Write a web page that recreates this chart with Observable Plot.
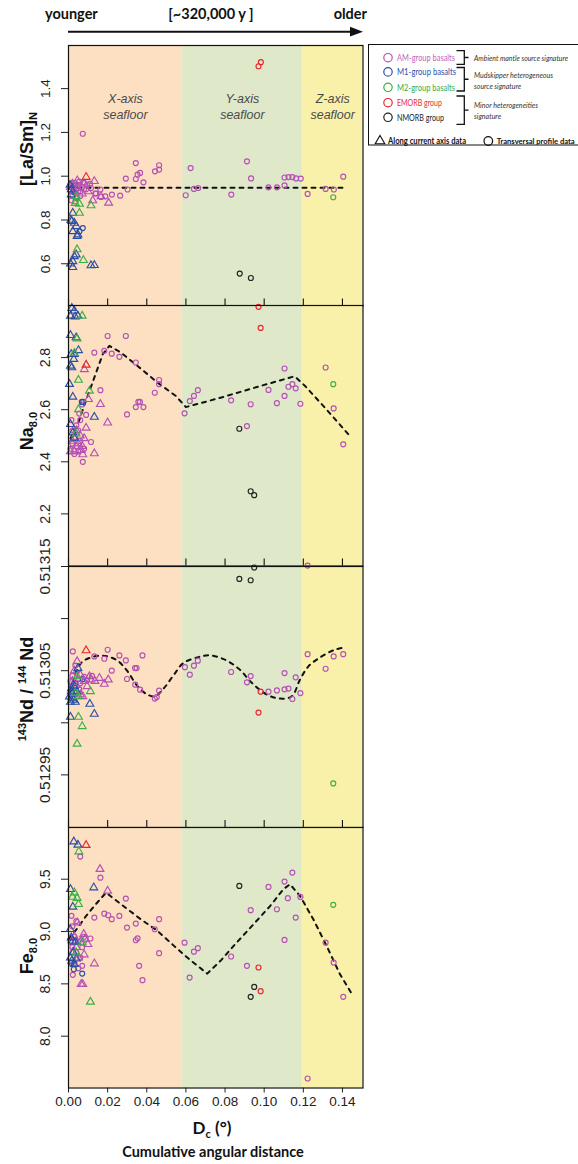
<!DOCTYPE html>
<html><head><meta charset="utf-8">
<script src="https://cdn.jsdelivr.net/npm/d3@7"></script>
<script src="https://cdn.jsdelivr.net/npm/@observablehq/plot@0.6"></script>
<style>
body{margin:0;background:#fff;}
#wrap{position:relative;width:578px;height:1164px;overflow:hidden;background:#fff;}
#wrap > svg{position:absolute;left:0;}
</style></head><body><div id="wrap"></div>
<script>
// ---------- shared x ----------
const xTicks = [0, 0.02, 0.04, 0.06, 0.08, 0.10, 0.12, 0.14];
const bandStart = [0, 0.0582, 0.1195];
const bandEnd = [0.0582, 0.1195, 0.1505];
const bandFill = ["#fde0c2", "#dfe8c9", "#f9f1aa"];
const bandName = ["X-axis\nseafloor", "Y-axis\nseafloor", "Z-axis\nseafloor"];

// ---------- groups / legend ----------
const groupKeys = ["AM", "M1", "M2", "EMORB", "NMORB"];
const groupColors = ["#b551b3", "#2b4fa5", "#3cae48", "#e8262d", "#222222"];
const legendLabels = ["AM-group basalts", "M1-group basalts", "M2-group basalts", "EMORB group", "NMORB group"];
const legendTextColors = ["#c163b6", "#2f4fa8", "#3aa845", "#ea2a36", "#222222"];
const legendNotes = [["Ambient mantle source signature"], ["Mudskipper heterogeneous", "source signature"], ["Minor heterogeneities", "signature"]];
const shapeLabels = ["Along current axis data", "Transversal profile data"];

// ---------- Panel 1 : [La/Sm]N ----------
const lasmTicks = [0.6, 0.8, 1.0, 1.2, 1.4];
const lasmAM_circ = [[0.0073,1.194],[0.0344,1.060],[0.0353,1.007],[0.0366,1.015],[0.0344,0.987],[0.0293,0.989],[0.0383,0.972],[0.0442,1.022],[0.0463,1.030],[0.0463,1.050],[0.0302,0.939],[0.0264,0.911],[0.0222,0.916],[0.0188,0.908],[0.0166,0.905],[0.0141,0.921],[0.0115,0.946],[0.0163,0.939],[0.0137,0.921],[0.0599,0.913],[0.0624,1.037],[0.0641,0.942],[0.0663,0.946],[0.0832,0.916],[0.0912,1.068],[0.0933,0.990],[0.1022,0.949],[0.1065,0.949],[0.1104,0.958],[0.1104,0.994],[0.1124,0.996],[0.1144,0.996],[0.1163,0.990],[0.1187,0.989],[0.1222,0.919],[0.1314,0.942],[0.1356,0.939],[0.1404,0.998],
  [0.001,0.96],[0.002,0.95],[0.003,0.97],[0.004,0.94],[0.005,0.96],[0.006,0.93],[0.007,0.95],[0.008,0.97],[0.009,0.94],[0.002,0.91],[0.004,0.90],[0.006,0.91],[0.003,0.925],[0.0095,0.96],[0.011,0.965],[0.0055,0.975],[0.0015,0.89],[0.0035,0.885]];
const lasmAM_tri = [[0.0132,0.977],[0.0166,0.908],[0.0205,0.878],[0.0124,0.889],[0.001,0.95],[0.003,0.935],[0.005,0.945],[0.007,0.92],[0.008,0.965],[0.0045,0.98],[0.010,0.93],[0.002,0.965]];
const lasmM1_tri = [[0.0022,0.832],[0.0014,0.939],[0.0014,0.916],[0.0017,0.794],[0.003,0.786],[0.004,0.771],[0.0022,0.748],[0.0044,0.726],[0.0022,0.611],[0.003,0.634],[0.0039,0.642],[0.0022,0.584],[0.0115,0.592],[0.0132,0.593],[0.0008,0.96],[0.0048,0.733],[0.0012,0.80],[0.0010,0.60]];
const lasmM1_circ = [[0.0073,0.763],[0.0056,0.748],[0.0035,0.96],[0.0025,0.93]];
const lasmM2_tri = [[0.0044,0.665],[0.0076,0.616],[0.0056,0.832],[0.0034,0.877],[0.0056,0.873],[0.0115,0.866],[0.0039,0.908]];
const lasmM2_circ = [[0.1353,0.904]];
const lasmEM_tri = [[0.009,0.996]];
const lasmEM_circ = [[0.0983,1.521],[0.0971,1.502]];
const lasmNM_circ = [[0.0875,0.555],[0.0932,0.535]];
const lasmTrend = [[0,0.947],[0.14,0.947]];

// ---------- Panel 2 : Na8.0 ----------
const naTicks = [2.2, 2.4, 2.6, 2.8];
const naAM_circ = [[0.02,2.883],[0.0293,2.883],[0.0183,2.826],[0.0221,2.815],[0.026,2.803],[0.0344,2.781],[0.0132,2.819],[0.0163,2.675],[0.0463,2.714],[0.0463,2.698],[0.0441,2.665],[0.0357,2.63],[0.0365,2.63],[0.0344,2.61],[0.0383,2.61],[0.0299,2.582],[0.0115,2.476],[0.0073,2.40],[0.0593,2.586],[0.062,2.633],[0.0641,2.653],[0.0661,2.675],[0.0831,2.636],[0.0912,2.537],[0.0931,2.621],[0.1022,2.676],[0.1065,2.625],[0.1104,2.758],[0.1104,2.653],[0.1124,2.688],[0.1144,2.698],[0.1161,2.682],[0.1185,2.623],[0.1314,2.762],[0.1355,2.605],[0.1404,2.467],
  [0.001,2.45],[0.002,2.47],[0.003,2.49],[0.004,2.46],[0.005,2.44],[0.006,2.48],[0.002,2.52],[0.004,2.54],[0.006,2.56],[0.003,2.43],[0.008,2.45],[0.0015,2.56],[0.005,2.52],[0.007,2.62],[0.009,2.58],[0.0055,2.585]];
const naAM_tri = [[0.0081,2.755],[0.0102,2.64],[0.0163,2.621],[0.02,2.55],[0.0132,2.432],[0.0073,2.428],[0.007,2.46],[0.003,2.44],[0.005,2.47],[0.006,2.50],[0.004,2.52],[0.008,2.49],[0.002,2.48],[0.009,2.53],[0.001,2.44],[0.0065,2.445]];
const naM1_tri = [[0.0017,2.99],[0.003,2.98],[0.001,2.96],[0.0034,2.957],[0.0048,2.96],[0.001,2.886],[0.0039,2.877],[0.0051,2.828],[0.003,2.813],[0.0014,2.813],[0.0027,2.794],[0.001,2.768],[0.0017,2.762],[0.0005,2.698],[0.0022,2.649],[0.0132,2.572],[0.001,2.544],[0.0022,2.512],[0.003,2.492]];
const naM1_circ = [[0.0068,2.63],[0.0075,2.63]];
const naM2_tri = [[0.007,2.96],[0.0044,2.873],[0.003,2.817],[0.0051,2.714],[0.0107,2.672],[0.0051,2.601],[0.0039,2.508]];
const naM2_circ = [[0.1353,2.698]];
const naEM_tri = [[0.009,2.772]];
const naEM_circ = [[0.0971,2.995],[0.0982,2.914]];
const naNM_circ = [[0.0873,2.527],[0.0931,2.287],[0.0949,2.272]];
const naTrend = [[0.001,2.49],[0.0048,2.544],[0.0073,2.60],[0.0107,2.672],[0.0141,2.742],[0.0175,2.813],[0.0209,2.845],[0.0268,2.819],[0.0353,2.768],[0.0455,2.704],[0.0548,2.653],[0.0600,2.610],[0.0777,2.646],[0.0963,2.687],[0.1144,2.726],[0.1158,2.727],[0.1209,2.691],[0.131,2.608],[0.1438,2.499]];

// ---------- Panel 3 : 143Nd/144Nd ----------
const ndTicks = [0.51295, 0.5130, 0.51305, 0.5131, 0.51315];
const ndTickLabels = ["0.51295", "", "0.51305", "", "0.51315"];
const ndAM_circ = [[0.0022,0.5130685],[0.0132,0.5130637],[0.0183,0.5130615],[0.02,0.5130701],[0.026,0.5130647],[0.0293,0.5130599],[0.0221,0.51305],[0.034,0.5130525],[0.0348,0.5130525],[0.0378,0.5130647],[0.0299,0.513042],[0.0341,0.5130366],[0.0366,0.5130318],[0.0441,0.5130232],[0.0451,0.5130247],[0.0463,0.5130308],[0.0595,0.5130534],[0.062,0.5130462],[0.0641,0.5130548],[0.0661,0.5130596],[0.0831,0.5130487],[0.0912,0.5130388],[0.0931,0.5130448],[0.1022,0.5130299],[0.1065,0.5130311],[0.1104,0.5130321],[0.1124,0.5130328],[0.1104,0.5130477],[0.1144,0.5130228],[0.1161,0.5130436],[0.1185,0.5130285],[0.1222,0.5130659],[0.1314,0.5130519],[0.1355,0.5130637],[0.1404,0.5130659],[0.1222,0.5131509],
  [0.001,0.51304],[0.002,0.513045],[0.003,0.51303],[0.004,0.513048],[0.005,0.513042],[0.006,0.513038],[0.008,0.513044],[0.0095,0.513041],[0.012,0.513045],[0.0015,0.513035],[0.0035,0.513055],[0.0055,0.513032]];
const ndAM_tri = [[0.0044,0.5130589],[0.0183,0.5130372],[0.0203,0.5130414],[0.0158,0.5130429],[0.0107,0.5130445],[0.0073,0.5130254],[0.0061,0.513027],[0.0115,0.5130414],[0.002,0.51304],[0.004,0.513036],[0.006,0.513046],[0.008,0.51304],[0.0095,0.513035],[0.003,0.51305],[0.0135,0.51304]];
const ndM1_tri = [[0.0048,0.5130525],[0.001,0.5130056],[0.0109,0.513018],[0.0132,0.5130084],[0.0014,0.5130302],[0.0022,0.5130238],[0.003,0.513035],[0.001,0.51302],[0.002,0.513028],[0.0005,0.513025],[0.0035,0.51302],[0.0015,0.513033],[0.0025,0.513022],[0.0042,0.51303]];
const ndM1_circ = [[0.0073,0.513042],[0.0035,0.513038]];
const ndM2_tri = [[0.0044,0.5130445],[0.0112,0.5130302],[0.0051,0.5130056],[0.007,0.5129966],[0.0044,0.5129797],[0.0034,0.5130285],[0.0051,0.5130254]];
const ndM2_circ = [[0.1353,0.5129418]];
const ndEM_tri = [[0.009,0.5130694]];
const ndEM_circ = [[0.0982,0.5130299],[0.0971,0.5130098]];
const ndNM_circ = [[0.0873,0.5131381],[0.0931,0.5131368],[0.0949,0.513149]];
const ndTrend = [[0,0.513022],[0.0005,0.513027],[0.0022,0.51304],[0.0048,0.5130525],[0.0073,0.513059],[0.0115,0.5130627],[0.0158,0.5130644],[0.02,0.5130637],[0.0251,0.5130596],[0.0302,0.5130493],[0.0353,0.513035],[0.0404,0.513027],[0.0441,0.5130254],[0.0488,0.5130333],[0.0539,0.5130462],[0.0587,0.5130573],[0.0658,0.5130627],[0.0717,0.5130647],[0.0793,0.5130611],[0.087,0.5130519],[0.0938,0.5130381],[0.1014,0.513027],[0.1082,0.5130232],[0.1141,0.5130254],[0.1183,0.5130414],[0.1226,0.5130541],[0.1285,0.5130627],[0.1361,0.5130701],[0.1412,0.5130723]];

// ---------- Panel 4 : Fe8.0 ----------
const feTicks = [8.0, 8.5, 9.0, 9.5];
const feAM_circ = [[0.006,9.716],[0.0163,9.515],[0.0132,9.133],[0.0183,9.171],[0.0203,9.156],[0.0221,9.118],[0.026,9.149],[0.0293,9.315],[0.0299,9.038],[0.0344,9.076],[0.0344,8.917],[0.0353,8.935],[0.0441,9.022],[0.0463,9.118],[0.0463,8.793],[0.0361,8.672],[0.0378,8.535],[0.0112,8.933],[0.007,8.672],[0.0022,8.586],[0.0593,8.894],[0.0619,8.56],[0.0641,8.808],[0.0661,8.841],[0.0831,8.761],[0.0912,8.672],[0.0931,9.204],[0.1022,9.426],[0.1065,9.213],[0.1104,9.477],[0.1104,8.92],[0.1121,9.319],[0.1144,9.563],[0.1161,9.133],[0.1185,9.331],[0.1222,7.596],[0.1314,8.894],[0.1355,8.703],[0.1404,8.376],
  [0.001,8.9],[0.002,8.85],[0.003,8.95],[0.004,8.8],[0.005,8.9],[0.006,8.75],[0.002,9.05],[0.004,9.1],[0.003,8.7],[0.007,8.85],[0.008,8.95],[0.0015,9.15],[0.005,8.65]];
const feAM_tri = [[0.0161,9.596],[0.02,9.388],[0.0132,8.694],[0.0065,8.497],[0.0073,8.497],[0.0099,8.879],[0.0078,8.975],[0.0044,9.085],[0.002,8.8],[0.004,8.85],[0.006,8.9],[0.008,8.78],[0.003,8.95],[0.005,8.75],[0.0085,8.93]];
const feM1_tri = [[0.0027,9.859],[0.0048,9.828],[0.001,9.404],[0.0129,9.42],[0.0022,9.235],[0.0009,9.022],[0.0014,8.942],[0.0022,8.911],[0.0017,8.72],[0.003,8.688],[0.001,8.75],[0.0025,8.8],[0.004,8.74],[0.0035,8.9]];
const feM1_circ = [[0.007,8.598],[0.0027,8.64],[0.0015,8.7]];
const feM2_tri = [[0.0053,9.764],[0.003,9.372],[0.0044,9.319],[0.0051,9.261],[0.0039,8.799],[0.007,8.894],[0.0112,8.328],[0.002,9.33]];
const feM2_circ = [[0.1353,9.255]];
const feEM_tri = [[0.009,9.825]];
const feEM_circ = [[0.0971,8.656],[0.0982,8.43]];
const feNM_circ = [[0.0873,9.436],[0.0949,8.471],[0.0931,8.376]];
const feTrend = [[0,8.927],[0.0048,9.038],[0.009,9.149],[0.0132,9.245],[0.0192,9.372],[0.0268,9.261],[0.0369,9.118],[0.0455,9.006],[0.0539,8.863],[0.0607,8.751],[0.0709,8.598],[0.0777,8.72],[0.0844,8.863],[0.0938,9.054],[0.1031,9.245],[0.1098,9.404],[0.1132,9.452],[0.1183,9.34],[0.1251,9.118],[0.1319,8.863],[0.1387,8.593],[0.1454,8.385]];

// ---------- build ----------
function rows(sets) {
  const out = [];
  sets.forEach(([g, shape, arr]) => arr.forEach(([x, y]) => out.push({x, y, g, shape})));
  return out;
}
const colorOf = g => groupColors[groupKeys.indexOf(g)];

const panels = [
  {top: 44.5, bottom: 305, domain: [0.407, 1.597], ticks: lasmTicks, labels: lasmTicks.map(d => d.toFixed(1)), fs: 13.5, trend: lasmTrend, curve: "linear",
   data: rows([["AM","tri",lasmAM_tri],["AM","circ",lasmAM_circ],["M1","circ",lasmM1_circ],["M1","tri",lasmM1_tri],["M2","tri",lasmM2_tri],["M2","circ",lasmM2_circ],["EMORB","tri",lasmEM_tri],["EMORB","circ",lasmEM_circ],["NMORB","circ",lasmNM_circ]])},
  {top: 305, bottom: 565.5, domain: [2.0, 3.0], ticks: naTicks, labels: naTicks.map(d => d.toFixed(1)), fs: 14, trend: naTrend, curve: "linear",
   data: rows([["AM","tri",naAM_tri],["AM","circ",naAM_circ],["M1","circ",naM1_circ],["M1","tri",naM1_tri],["M2","tri",naM2_tri],["M2","circ",naM2_circ],["EMORB","tri",naEM_tri],["EMORB","circ",naEM_circ],["NMORB","circ",naNM_circ]])},
  {top: 565.5, bottom: 826.5, domain: [0.5128995, 0.51315], ticks: ndTicks, labels: ndTickLabels, fs: 15.5, trend: ndTrend, curve: "catmull-rom",
   data: rows([["AM","tri",ndAM_tri],["AM","circ",ndAM_circ],["M1","circ",ndM1_circ],["M1","tri",ndM1_tri],["M2","tri",ndM2_tri],["M2","circ",ndM2_circ],["EMORB","tri",ndEM_tri],["EMORB","circ",ndEM_circ],["NMORB","circ",ndNM_circ]])},
  {top: 826.5, bottom: 1087, domain: [7.505, 9.994], ticks: feTicks, labels: feTicks.map(d => d.toFixed(1)), fs: 14, trend: feTrend, curve: "linear",
   data: rows([["AM","tri",feAM_tri],["AM","circ",feAM_circ],["M1","circ",feM1_circ],["M1","tri",feM1_tri],["M2","tri",feM2_tri],["M2","circ",feM2_circ],["EMORB","tri",feEM_tri],["EMORB","circ",feEM_circ],["NMORB","circ",feNM_circ]])}
];

const wrap = document.getElementById("wrap");
const bands = bandStart.map((s, i) => ({s, e: bandEnd[i], fill: bandFill[i], name: bandName[i]}));
const xLeft = 68, xRight = 362.5;

panels.forEach((p, i) => {
  const last = i === panels.length - 1;
  const mt = 2, mb = last ? 40 : 2;
  const h = p.bottom - p.top;
  const labelRows = p.ticks.map((t, k) => ({v: t, t: p.labels[k]})).filter(d => d.t);
  const marks = [
    Plot.rect(bands, {x1: "s", x2: "e", fill: "fill"}),
    i === 0 ? Plot.text(bands, {x: d => (d.s + d.e) / 2, text: "name", frameAnchor: "top", dy: 60, lineAnchor: "middle",
      fontStyle: "italic", fontSize: 12.5, fill: "#4a4a4a", lineHeight: 1.28}) : null,
    Plot.line(p.trend, {x: d => d[0], y: d => d[1], stroke: "#111", strokeWidth: 2, strokeDasharray: "4,5", curve: p.curve}),
    Plot.dot(p.data.filter(d => d.shape === "circ"), {x: "x", y: "y", stroke: d => colorOf(d.g), r: 2.5, strokeWidth: 1.15, symbol: "circle", fill: "none"}),
    Plot.dot(p.data.filter(d => d.shape === "tri"), {x: "x", y: "y", stroke: d => colorOf(d.g), r: 2.9, strokeWidth: 1.15, symbol: "triangle", fill: "none"}),
    Plot.frame({stroke: "#111", strokeWidth: 1.2}),
    last ? null : Plot.ruleX(xTicks, {x: d => d, insetTop: h - 7, stroke: "#111", strokeWidth: 1.1}),
    Plot.text(labelRows, {y: "v", text: "t", frameAnchor: "left", rotate: -90, dx: -23, textAnchor: "middle", lineAnchor: "middle", fontSize: p.fs, fill: "#222"})
  ].filter(Boolean);
  const plot = Plot.plot({
    width: 578, height: h + mt + mb,
    marginLeft: xLeft, marginRight: 578 - xRight, marginTop: mt, marginBottom: mb,
    style: {background: "transparent", overflow: "visible", fontFamily: "'Liberation Sans', Arial, sans-serif", fontSize: "13.5px", color: "#222"},
    x: {domain: [0, 0.1505], ticks: xTicks, tickFormat: d3.format(".2f"), tickSize: 5, tickPadding: 3, axis: last ? "bottom" : null, label: null},
    y: {domain: p.domain, ticks: p.ticks, tickSize: 7, tickFormat: () => "", label: null},
    marks
  });
  plot.style.top = (p.top - mt) + "px";
  wrap.appendChild(plot);
});

// ---------- annotations overlay ----------
const svg = d3.select(wrap).append("svg").attr("width", 578).attr("height", 1164).style("top", "0px").style("pointer-events", "none");
const boldMyriad = "Lato, 'Open Sans', sans-serif";

// top arrow
svg.append("line").attr("x1", 68).attr("x2", 352).attr("y1", 31.7).attr("y2", 31.7).attr("stroke", "#111").attr("stroke-width", 2);
svg.append("path").attr("d", "M363,31.7L350,26.8L350,36.6Z").attr("fill", "#111");
const topTexts = [["younger", 45, "start"], ["[~320,000 y ]", 211, "middle"], ["older", 367, "end"]];
topTexts.forEach(([t, x, a]) => svg.append("text").attr("x", x).attr("y", 19).attr("text-anchor", a)
  .attr("font-family", boldMyriad).attr("font-weight", "bold").attr("font-size", 14.5).attr("fill", "#111").text(t));

// y titles
const yTitleFont = "'Liberation Sans', Arial, sans-serif";
function yTitle(cy, parts) {
  const t = svg.append("text").attr("transform", `translate(33,${cy}) rotate(-90)`).attr("text-anchor", "middle")
    .attr("font-family", yTitleFont).attr("font-weight", "bold").attr("font-size", 18).attr("fill", "#111");
  parts.forEach(([s, kind]) => {
    const ts = t.append("tspan").text(s);
    if (kind === "sub") ts.attr("font-size", 11).attr("dy", 4);
    if (kind === "sup") ts.attr("font-size", 11).attr("dy", -7);
    if (kind === "back") ts.attr("dy", 7);
  });
}
yTitle(149, [["[La/Sm]"], ["N", "sub"]]);
yTitle(431, [["Na"], ["8.0", "sub"]]);
yTitle(689, [["143", "sup"], ["Nd / ", "back"], ["144", "sup"], [" Nd", "back"]]);
yTitle(956, [["Fe"], ["8.0", "sub"]]);

// x titles
const xt = svg.append("text").attr("x", 212).attr("y", 1134).attr("text-anchor", "middle").attr("font-family", boldMyriad)
  .attr("font-weight", "bold").attr("font-size", 17).attr("fill", "#111");
xt.append("tspan").text("D");
xt.append("tspan").text("c").attr("font-size", 11).attr("dy", 4);
xt.append("tspan").text(" (°)").attr("dy", -4);
svg.append("text").attr("x", 213).attr("y", 1157).attr("text-anchor", "middle").attr("font-family", boldMyriad)
  .attr("font-weight", "bold").attr("font-size", 14.5).attr("fill", "#111").text("Cumulative angular distance");

// legend
const lg = svg.append("g");
lg.append("rect").attr("x", 368.5).attr("y", 44.5).attr("width", 220).attr("height", 100.5).attr("fill", "#fff").attr("stroke", "#111").attr("stroke-width", 1);
const legY = [57.7, 71.9, 87.3, 102.7, 117.3];
const legW = [58, 59, 58, 45, 47];
legendLabels.forEach((lab, i) => {
  lg.append("circle").attr("cx", 388).attr("cy", legY[i]).attr("r", 4.2).attr("fill", "none").attr("stroke", groupColors[i]).attr("stroke-width", 1.2);
  lg.append("text").attr("x", 397).attr("y", legY[i] + 3.4).attr("font-family", "Lato, sans-serif").attr("font-size", 10)
    .attr("fill", legendTextColors[i]).attr("textLength", legW[i]).attr("lengthAdjust", "spacingAndGlyphs").text(lab);
});
const brackets = [[50.7, 64.3], [67.5, 91], [96, 124.3]];
brackets.forEach(([a, b]) => {
  lg.append("path").attr("d", `M456.5,${a}H464.3V${b}H456.5M464.3,${(a + b) / 2}H468.5`).attr("fill", "none").attr("stroke", "#111").attr("stroke-width", 1.3);
});
const noteRows = [[legendNotes[0][0], 61, 94], [legendNotes[1][0], 77.7, 79], [legendNotes[1][1], 89, 47], [legendNotes[2][0], 107.7, 64], [legendNotes[2][1], 119, 27]];
noteRows.forEach(([t, y, w]) => lg.append("text").attr("x", 474).attr("y", y).attr("font-family", "Lato, sans-serif").attr("font-style", "italic")
  .attr("font-size", 7.4).attr("fill", "#333").attr("textLength", w).attr("lengthAdjust", "spacingAndGlyphs").text(t));
lg.append("path").attr("d", d3.symbol(d3.symbolTriangle, 40)()).attr("transform", "translate(380,141)").attr("fill", "none").attr("stroke", "#111").attr("stroke-width", 1.1);
lg.append("text").attr("x", 388).attr("y", 144.2).attr("font-family", "Lato, sans-serif").attr("font-weight", "bold").attr("font-size", 8.6)
  .attr("fill", "#111").attr("textLength", 78).attr("lengthAdjust", "spacingAndGlyphs").text(shapeLabels[0]);
lg.append("circle").attr("cx", 488.3).attr("cy", 141).attr("r", 4.3).attr("fill", "none").attr("stroke", "#111").attr("stroke-width", 1.2);
lg.append("text").attr("x", 496.7).attr("y", 144.2).attr("font-family", "Lato, sans-serif").attr("font-weight", "bold").attr("font-size", 7.4)
  .attr("fill", "#111").attr("textLength", 78).attr("lengthAdjust", "spacingAndGlyphs").text(shapeLabels[1]);
</script></body></html>
